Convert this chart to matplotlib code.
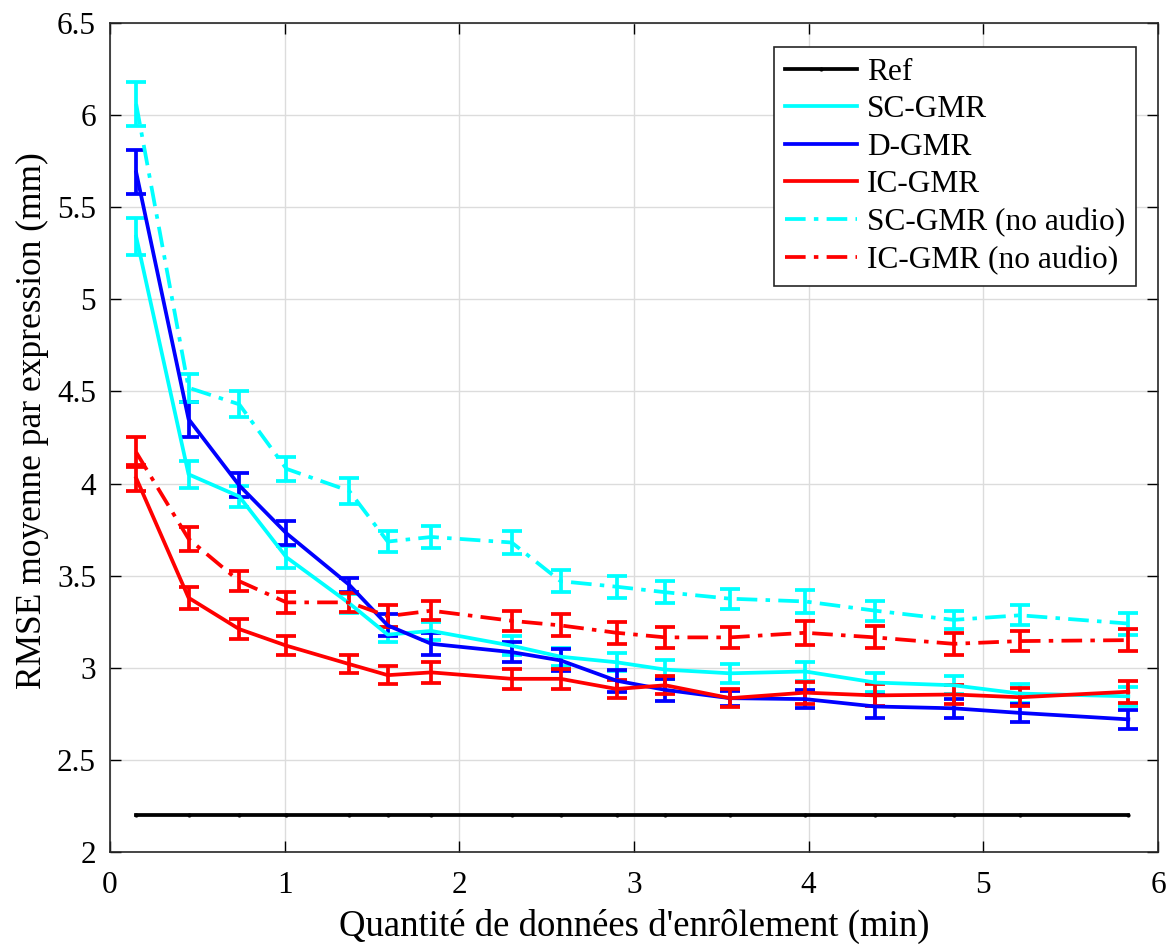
import matplotlib
matplotlib.use("Agg")
import matplotlib.pyplot as plt
from matplotlib.lines import Line2D

plt.rcParams['font.family'] = ['Liberation Serif', 'DejaVu Serif']

x = [0.15, 0.45, 0.74, 1.01, 1.37, 1.59, 1.84, 2.30, 2.58, 2.90, 3.18, 3.55, 3.98, 4.38, 4.83, 5.21, 5.83]
ref = [2.2] * len(x)

sc_gmr = [5.34, 4.05, 3.93, 3.60, 3.35, 3.18, 3.20, 3.12, 3.06, 3.03, 2.99, 2.97, 2.98, 2.92, 2.905, 2.86, 2.845]
sc_err = [0.10, 0.075, 0.055, 0.06, 0.05, 0.04, 0.05, 0.05, 0.05, 0.05, 0.05, 0.05, 0.05, 0.05, 0.05, 0.05, 0.05]

d_gmr = [5.69, 4.35, 3.99, 3.73, 3.45, 3.23, 3.13, 3.085, 3.04, 2.93, 2.88, 2.835, 2.83, 2.79, 2.78, 2.755, 2.72]
d_err = [0.12, 0.095, 0.065, 0.065, 0.04, 0.06, 0.06, 0.055, 0.06, 0.06, 0.06, 0.04, 0.05, 0.06, 0.05, 0.05, 0.05]

ic_gmr = [4.03, 3.38, 3.21, 3.12, 3.02, 2.96, 2.975, 2.94, 2.94, 2.885, 2.905, 2.835, 2.865, 2.85, 2.855, 2.84, 2.87]
ic_err = [0.07, 0.06, 0.055, 0.05, 0.05, 0.05, 0.055, 0.055, 0.055, 0.05, 0.05, 0.05, 0.06, 0.06, 0.05, 0.05, 0.06]

sc_na = [6.06, 4.52, 4.43, 4.08, 3.96, 3.685, 3.71, 3.68, 3.47, 3.44, 3.41, 3.375, 3.36, 3.31, 3.26, 3.285, 3.24]
sc_na_err = [0.12, 0.075, 0.07, 0.065, 0.07, 0.055, 0.06, 0.06, 0.06, 0.06, 0.06, 0.055, 0.06, 0.055, 0.05, 0.055, 0.06]

ic_na = [4.17, 3.70, 3.47, 3.355, 3.355, 3.28, 3.31, 3.255, 3.23, 3.19, 3.165, 3.165, 3.19, 3.165, 3.13, 3.145, 3.15]
ic_na_err = [0.08, 0.065, 0.055, 0.055, 0.05, 0.06, 0.05, 0.055, 0.06, 0.06, 0.055, 0.055, 0.065, 0.06, 0.06, 0.055, 0.06]

labels = ['Ref', 'SC-GMR', 'D-GMR', 'IC-GMR', 'SC-GMR (no audio)', 'IC-GMR (no audio)']

fig = plt.figure(figsize=(11.76, 9.49), dpi=100)
ax = fig.add_axes([0.0935, 0.1022, 0.8912, 0.8736])

lw = 2.7
dashdot = (0, (5.5, 2.2, 1.2, 2.2))

ax.plot(x, ref, color='black', lw=lw, marker='.', markersize=4, label=labels[0])
series = [
    (sc_gmr, sc_err, '#00FFFF', '-', labels[1]),
    (d_gmr, d_err, '#0000FF', '-', labels[2]),
    (ic_gmr, ic_err, '#FF0000', '-', labels[3]),
    (sc_na, sc_na_err, '#00FFFF', dashdot, labels[4]),
    (ic_na, ic_na_err, '#FF0000', dashdot, labels[5]),
]
for y, e, c, ls, lab in series:
    cont = ax.errorbar(x, y, yerr=e, color=c, lw=lw, elinewidth=lw, capsize=7,
                       capthick=lw, label=lab)
    cont.lines[0].set_linestyle(ls)

ax.set_xlim(0, 6)
ax.set_ylim(2, 6.5)
ax.set_xticks(range(0, 7))
ax.set_yticks([2, 2.5, 3, 3.5, 4, 4.5, 5, 5.5, 6, 6.5])
ax.set_yticklabels(['2', '2.5', '3', '3.5', '4', '4.5', '5', '5.5', '6', '6.5'])
ax.grid(True, color='#DCDCDC', lw=1)
ax.set_axisbelow(True)
ax.tick_params(direction='in', top=True, right=True, length=8, width=1, labelsize=22.5)
ax.tick_params(axis='x', pad=14)
ax.tick_params(axis='y', pad=10)
for s in ax.spines.values():
    s.set_linewidth(1.2)
    s.set_color('#262626')

ax.set_xlabel("Quantité de données d'enrôlement (min)", fontsize=26.5, labelpad=6)
ax.set_ylabel("RMSE moyenne par expression (mm)", fontsize=25.5)
ax.yaxis.set_label_coords(-0.058, 0.52)

hs = [Line2D([], [], color='black', lw=lw, marker='.', markersize=4, markevery=[1])]
cols = ['#00FFFF', '#0000FF', '#FF0000', '#00FFFF', '#FF0000']
lss = ['-', '-', '-', dashdot, dashdot]
for c, ls in zip(cols, lss):
    hs.append(Line2D([], [], color=c, lw=lw, linestyle=ls))
leg = ax.legend(hs, labels, loc='upper right', bbox_to_anchor=(0.979, 0.971), fontsize=22.6,
                frameon=True, fancybox=False, edgecolor='#262626', framealpha=1,
                handlelength=2.3, handletextpad=0.3, labelspacing=0.27, borderpad=0.35,
                borderaxespad=0)
leg.get_frame().set_linewidth(1.2)

fig.savefig('out.png', dpi=100)
